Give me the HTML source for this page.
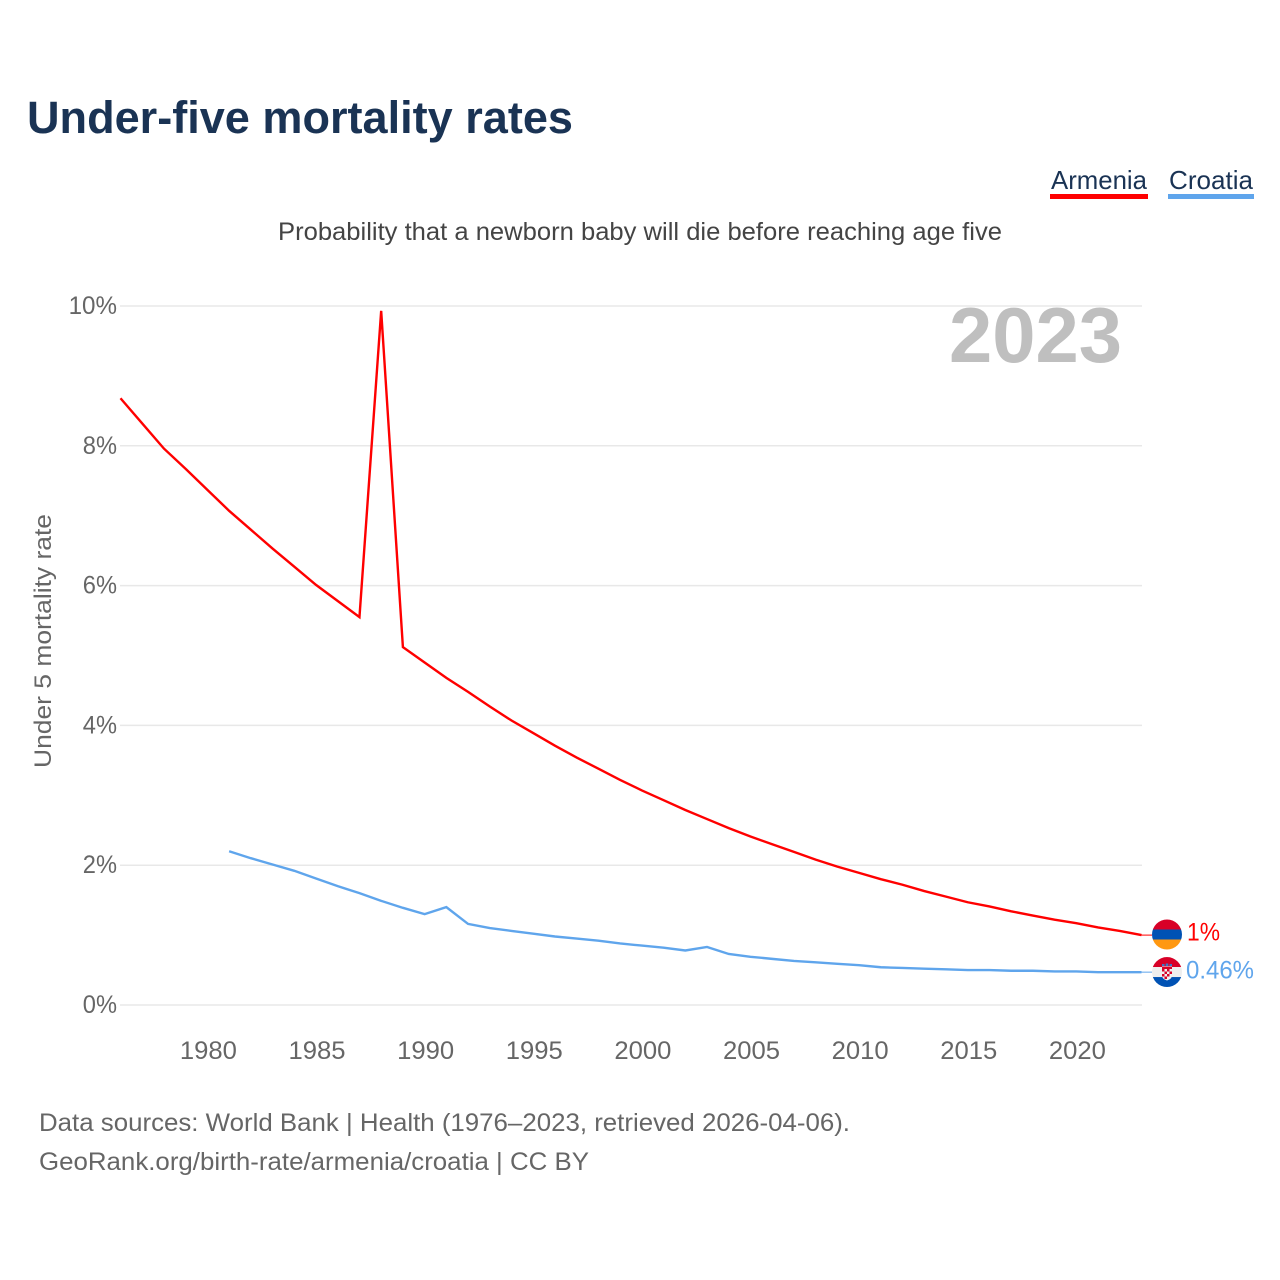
<!DOCTYPE html>
<html lang="en">
<head>
<meta charset="utf-8">
<title>Under-five mortality rates</title>
<style>
html,body{margin:0;padding:0;background:#fff;width:1280px;height:1280px;overflow:hidden}
svg{display:block}
text{font-family:"Liberation Sans",sans-serif}
</style>
</head>
<body>
<svg id="chart" xmlns="http://www.w3.org/2000/svg" width="1280" height="1280" viewBox="0 0 1280 1280">
  <rect x="0" y="0" width="1280" height="1280" fill="#fff"/>
  <text x="27" y="133" font-size="45" font-weight="700" fill="#1a3354" textLength="546" lengthAdjust="spacingAndGlyphs">Under-five mortality rates</text>
  <g>
    <g>
      <text x="1051" y="189" font-size="26" fill="#1a3354" textLength="96" lengthAdjust="spacingAndGlyphs">Armenia</text>
      <rect x="1050" y="194" width="98" height="5" fill="#ff0000"/>
    </g>
    <g>
      <text x="1169" y="189" font-size="26" fill="#1a3354" textLength="84" lengthAdjust="spacingAndGlyphs">Croatia</text>
      <rect x="1168" y="194" width="86" height="5" fill="#5fa5ec"/>
    </g>
  </g>
  <text x="278" y="240" font-size="25" fill="#444" textLength="724" lengthAdjust="spacingAndGlyphs">Probability that a newborn baby will die before reaching age five</text>
  <text transform="translate(51,768) rotate(-90)" x="0" y="0" font-size="24.500" fill="#666" textLength="254" lengthAdjust="spacingAndGlyphs">Under 5 mortality rate</text>
  <g id="grid"></g>
  <g id="yticks"></g>
  <g id="xticks"></g>
  <text x="949" y="362" font-size="78" font-weight="700" fill="#bfbfbf" textLength="173" lengthAdjust="spacingAndGlyphs">2023</text>
  <g id="series"></g>
  <defs>
    <clipPath id="clip-am"><circle id="clip-am-c" cx="1167" cy="934.5" r="15"/></clipPath>
    <clipPath id="clip-hr"><circle id="clip-hr-c" cx="1167" cy="972" r="15"/></clipPath>
  </defs>
  <g id="flag-am" clip-path="url(#clip-am)">
    <rect x="1152" y="919.5" width="30" height="10" fill="#d80027"/>
    <rect x="1152" y="929.5" width="30" height="10" fill="#0052b4"/>
    <rect x="1152" y="939.5" width="30" height="10.5" fill="#ff9811"/>
  </g>
  <g id="flag-hr" clip-path="url(#clip-hr)">
    <rect x="1152" y="957" width="30" height="10" fill="#d80027"/>
    <rect x="1152" y="967" width="30" height="10" fill="#eeeeee"/>
    <rect x="1152" y="977" width="30" height="10.5" fill="#0052b4"/>
    <path d="M1162 966h10v9.5q0 3.5-5 5q-5-1.500-5-5z" fill="#f0f0f0"/>
    <path d="M1162 966.500h10v2.500h-10zM1162 969h2.500v2.500h-2.500zM1167 969h2.500v2.500h-2.500zM1164.500 971.500h2.500v2.500h-2.500zM1169.500 971.500h2.500v2.500h-2.500zM1162 974h2.500v2.500h-2.500zM1167 974h2.500v2.500h-2.500zM1164.500 976.500h2.500v2.500h-2.500z" fill="#d80027"/>
    <path d="M1162 964h2.500v2h-2.500zM1165.700 963.500h2.600v2.500h-2.600zM1169.500 964h2.500v2h-2.500z" fill="#3a78c9"/>
  </g>
  <text id="end-am" x="1187" y="940" font-size="25" fill="#ff0000" textLength="33" lengthAdjust="spacingAndGlyphs">1%</text>
  <text id="end-hr" x="1186" y="978" font-size="25" fill="#5fa5ec" textLength="68" lengthAdjust="spacingAndGlyphs">0.46%</text>
  <text x="39" y="1131" font-size="25" fill="#666" textLength="811" lengthAdjust="spacingAndGlyphs">Data sources: World Bank | Health (1976–2023, retrieved 2026-04-06).</text>
  <text x="39" y="1170" font-size="25" fill="#666" textLength="550" lengthAdjust="spacingAndGlyphs">GeoRank.org/birth-rate/armenia/croatia | CC BY</text>
</svg>
<script>
const armeniaYears = [1976,1977,1978,1979,1980,1981,1982,1983,1984,1985,1986,1987,1988,1989,1990,1991,1992,1993,1994,1995,1996,1997,1998,1999,2000,2001,2002,2003,2004,2005,2006,2007,2008,2009,2010,2011,2012,2013,2014,2015,2016,2017,2018,2019,2020,2021,2022,2023];
const armeniaValues = [8.68,8.32,7.96,7.67,7.37,7.07,6.80,6.53,6.27,6.01,5.78,5.55,9.93,5.12,4.90,4.68,4.48,4.27,4.07,3.89,3.71,3.54,3.38,3.22,3.07,2.93,2.79,2.66,2.53,2.41,2.30,2.19,2.08,1.98,1.89,1.80,1.72,1.63,1.55,1.47,1.41,1.34,1.28,1.22,1.17,1.11,1.06,1.00];
const croatiaYears = [1981,1982,1983,1984,1985,1986,1987,1988,1989,1990,1991,1992,1993,1994,1995,1996,1997,1998,1999,2000,2001,2002,2003,2004,2005,2006,2007,2008,2009,2010,2011,2012,2013,2014,2015,2016,2017,2018,2019,2020,2021,2022,2023];
const croatiaValues = [2.20,2.10,2.01,1.92,1.81,1.70,1.60,1.49,1.39,1.30,1.40,1.16,1.10,1.06,1.02,0.98,0.95,0.92,0.88,0.85,0.82,0.78,0.83,0.73,0.69,0.66,0.63,0.61,0.59,0.57,0.54,0.53,0.52,0.51,0.50,0.50,0.49,0.49,0.48,0.48,0.47,0.47,0.47];
const yTickValues = [0,2,4,6,8,10];
const xTickYears = [1980,1985,1990,1995,2000,2005,2010,2015,2020];

const NS = 'http://www.w3.org/2000/svg';
function xScale(year){ return 120.5 + (year - 1976) * (1141.5 - 120.5) / 47; }
function yScale(v){ return 1005 - v * 69.9; }
function mk(tag, attrs, parent){
  const el = document.createElementNS(NS, tag);
  for (const k in attrs) el.setAttribute(k, attrs[k]);
  parent.appendChild(el);
  return el;
}

const gridG = document.getElementById('grid');
const yG = document.getElementById('yticks');
const xG = document.getElementById('xticks');
const seriesG = document.getElementById('series');

yTickValues.forEach(function(v){
  const line = mk('line', {x1:120, x2:1142, y1:yScale(v), y2:yScale(v), stroke:'#e8e8e8', 'stroke-width':1.5}, gridG);
  
  
  const s = v + '%';
  const t = mk('text', {x:117, y:yScale(v)+8, 'text-anchor':'end', 'font-size':25, fill:'#666', textLength:(String(v).length*14.2+20), lengthAdjust:'spacingAndGlyphs'}, yG);
  t.textContent = s;
  
  
});

xTickYears.forEach(function(y){
  const t = mk('text', {x:xScale(y)+1, y:1059, 'text-anchor':'middle', 'font-size':25, fill:'#666', textLength:57, lengthAdjust:'spacingAndGlyphs'}, xG);
  t.textContent = y;
  
  
});

function pathFor(years, values){
  return years.map(function(y,i){ return (i ? 'L' : 'M') + xScale(y).toFixed(2) + ' ' + yScale(values[i]).toFixed(2); }).join('');
}

const armeniaLine = mk('path', {d:pathFor(armeniaYears, armeniaValues), fill:'none', stroke:'#ff0000', 'stroke-width':2.4, 'stroke-linejoin':'miter'}, seriesG);



const croatiaLine = mk('path', {d:pathFor(croatiaYears, croatiaValues), fill:'none', stroke:'#5fa5ec', 'stroke-width':2.4, 'stroke-linejoin':'miter'}, seriesG);



const amEnd = yScale(armeniaValues[armeniaValues.length-1]);
const hrEnd = yScale(croatiaValues[croatiaValues.length-1]);

const amLead = mk('line', {x1:1141.5, x2:1152, y1:amEnd, y2:amEnd, stroke:'#ff0000', 'stroke-width':1}, seriesG);



const hrLead = mk('line', {x1:1141.5, x2:1152, y1:hrEnd, y2:hrEnd, stroke:'#5fa5ec', 'stroke-width':1}, seriesG);



document.getElementById('flag-am').setAttribute('transform', 'translate(0,' + (amEnd - 935.1) + ')');
document.getElementById('flag-hr').setAttribute('transform', 'translate(0,' + (hrEnd - 972.1) + ')');
document.getElementById('end-am').setAttribute('y', amEnd + 5.5);
document.getElementById('end-hr').setAttribute('y', hrEnd + 6.5);
</script>
</body>
</html>
